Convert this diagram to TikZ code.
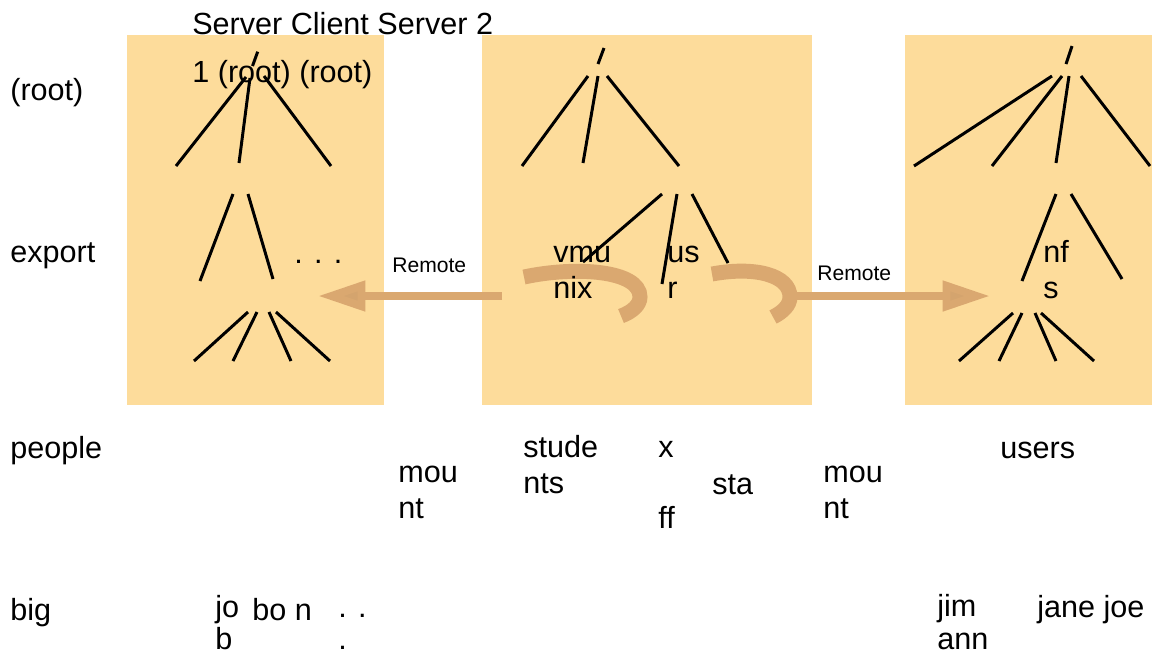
\documentclass[tikz,border=0pt]{standalone}
\usepackage{fontspec}
\setmainfont{Liberation Sans}
\usetikzlibrary{arrows.meta}

\definecolor{boxfill}{RGB}{253,220,155}
\definecolor{mountband}{RGB}{218,168,112}
\definecolor{headfill}{RGB}{212,164,110}

\tikzset{
  fsbox/.style={fill=boxfill},
  branch/.style={line width=1.7pt, black},
  lbl/.style={anchor=base west, inner sep=0pt, align=left,
    font=\fontsize{17.4}{20.4}\selectfont},
  smalllbl/.style={anchor=base west, inner sep=0pt,
    font=\fontsize{12}{14}\selectfont},
  band/.style={mountband, line width=8.5pt},
  remote/.style={mountband, line width=4.5pt,
    -{Triangle[length=27pt, width=16.5pt, fill=headfill]}},
}

\begin{document}
\begin{tikzpicture}[x=0.02cm, y=-0.02cm]
    \useasboundingbox (0,0) rectangle (1152,654);
    % File system boxes: server 1, client, server 2
    \fill[fsbox] (127,35) rectangle (384,405);
    \fill[fsbox] (482,35) rectangle (812,405);
    \fill[fsbox] (905,35) rectangle (1152,405);
    % Mount bands in the client
    \draw[band] (524,277) .. controls (575,266) and (640,270) .. (640,297)
      .. controls (640,305) and (632,312) .. (621,316);
    \draw[band] (712,274) .. controls (755,266) and (790,275) .. (790,297)
      .. controls (790,305) and (783,312) .. (773,317);
    % Remote mount arrows
    \coordinate (lstart) at (502,296);
    \coordinate (ltip) at (318,296);
    \coordinate (rstart) at (788,296);
    \coordinate (rtip) at (990,296);
    \draw[remote] (lstart) -- (ltip);
    \draw[remote] (rstart) -- (rtip);
    % Server 1 tree
    \draw[branch] (257.7,51.7) -- (252.5,66);
    \draw[branch] (246,77) -- (176,166);
    \draw[branch] (250,78) -- (239,163);
    \draw[branch] (264,76) -- (331,166);
    \draw[branch] (233,194) -- (200,281);
    \draw[branch] (248,194) -- (273,279);
    \draw[branch] (248,312) -- (194,361);
    \draw[branch] (257,312) -- (233,361);
    \draw[branch] (269,312) -- (291,361);
    \draw[branch] (276,312) -- (330,361);
    % Client tree
    \draw[branch] (604,48) -- (598,64);
    \draw[branch] (588,76) -- (522,166);
    \draw[branch] (598,76) -- (583,163);
    \draw[branch] (607,76) -- (679,166);
    \draw[branch] (662,194) -- (583,262);
    \draw[branch] (677,194) -- (662,284);
    \draw[branch] (692,194) -- (728,263);
    % Server 2 tree
    \draw[branch] (1072,46) -- (1066,64);
    \draw[branch] (1052,76) -- (914,166);
    \draw[branch] (1062,76) -- (992,166);
    \draw[branch] (1069,76) -- (1056,163);
    \draw[branch] (1081,76) -- (1150,166);
    \draw[branch] (1056,194) -- (1022,281);
    \draw[branch] (1071,194) -- (1122,279);
    \draw[branch] (1013,313) -- (959,361);
    \draw[branch] (1022,313) -- (999,361);
    \draw[branch] (1035,313) -- (1056,361);
    \draw[branch] (1041,313) -- (1094,361);
    % Headings and level names (multi-line: base is the last line)
    \node[lbl] (heads) at (192,82) {Server Client Server 2\\[6.8pt]1 (root) (root)};
    \node[lbl] (lvroot) at (10,100) {(root)};
    \node[lbl] (lvexport) at (10,262) {export};
    \node[lbl] (lvpeople) at (10,458) {people};
    \node[lbl] (lvbig) at (10,620) {big};
    % Directory names
    \node[lbl] (dots1) at (294,263) {. . .};
    \node[lbl] (vmunix) at (553,298) {vmu\\nix};
    \node[lbl] (usr) at (667,298) {us\\r};
    \node[lbl] (nfs) at (1043,298) {nf\\s};
    \node[smalllbl] (remoteL) at (392,272) {Remote};
    \node[smalllbl] (remoteR) at (817,280) {Remote};
    \node[lbl] (mountL) at (398,518) {mou\\nt};
    \node[lbl] (mountR) at (823,518) {mou\\nt};
    \node[lbl] (students) at (523,493) {stude\\nts};
    \node[lbl] (staffx) at (658,457) {x};
    \node[lbl] (staffff) at (658,528) {ff};
    \node[lbl] (staffsta) at (712,494) {sta};
    \node[lbl] (users) at (1000,458) {users};
    \node[lbl] (job) at (215,649) {jo\\[-2.3pt]b};
    \node[lbl] (bon) at (252,620) {bo n};
    \node[lbl] (dots2) at (338,649) {. .\\[-2.3pt].};
    \node[lbl] (jimann) at (937,649) {jim\\[-1.7pt]ann};
    \node[lbl] (janejoe) at (1037,617) {jane joe};
\end{tikzpicture}
\end{document}
